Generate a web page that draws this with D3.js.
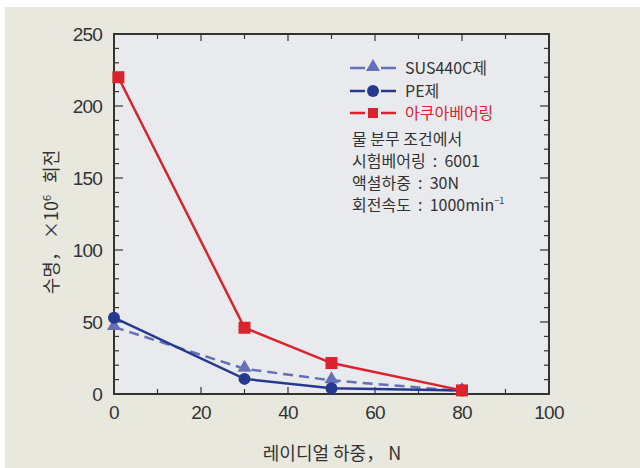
<!DOCTYPE html>
<html>
<head>
<meta charset="utf-8">
<script src="https://cdn.jsdelivr.net/npm/d3@7"></script>
<style>
  html, body { margin: 0; padding: 0; background: #ffffff; }
  svg { display: block; }
  .num { font-family: "Liberation Sans Narrow", "Liberation Sans", Arial, sans-serif; }
  .kr { font-family: "Noto Sans CJK KR", "Noto Sans", sans-serif; white-space: pre; }
</style>
</head>
<body>
<svg id="chart" width="640" height="468"></svg>
<script>
// Radial load (N) vs bearing life (x10^6 revolutions)
const loads = [0, 30, 50, 80];
const susLife = [46.5, 17.5, 9.5, 2];
const peLife = [53, 10.5, 4, 2.5];
const aquaLoads = [1, 30, 50, 80];
const aquaLife = [220, 46, 21.5, 2.5];

const xTicks = [0, 20, 40, 60, 80, 100];
const yTicks = [0, 50, 100, 150, 200, 250];

const seriesNames = ["SUS440C제", "PE제", "아쿠아베어링"];
const conditionLines = ["물 분무 조건에서", "시험베어링  :  6001", "액셜하중  :  30N"];

const svg = d3.select("#chart");
const W = 640, H = 468;

// backgrounds
svg.append("rect").attr("width", W).attr("height", H).attr("fill", "#ffffff");
svg.append("rect").attr("x", 5).attr("y", 7).attr("width", W - 5).attr("height", H - 7).attr("fill", "#e8e8de");

const pLeft = 114, pRight = 549, pTop = 34, pBottom = 394;
const x = d3.scaleLinear().domain([0, 100]).range([pLeft, pRight]);
const y = d3.scaleLinear().domain([0, 250]).range([pBottom, pTop]);

svg.append("rect").attr("x", pLeft).attr("y", pTop).attr("width", pRight - pLeft).attr("height", pBottom - pTop)
  .attr("fill", "#e8eaee");

// minor inward ticks on all four sides
const minorX = d3.range(10, 100, 10);
const minorY = d3.range(10, 250, 10);
const tg = svg.append("g").attr("stroke", "#333").attr("stroke-width", 1.2);
minorX.forEach(v => {
  const len = v % 20 === 0 ? 7 : 5;
  tg.append("line").attr("x1", x(v)).attr("x2", x(v)).attr("y1", pBottom).attr("y2", pBottom - len);
  tg.append("line").attr("x1", x(v)).attr("x2", x(v)).attr("y1", pTop).attr("y2", pTop + len);
});
minorY.forEach(v => {
  const len = v % 50 === 0 ? 9 : 5;
  tg.append("line").attr("y1", y(v)).attr("y2", y(v)).attr("x1", pLeft).attr("x2", pLeft + len);
  tg.append("line").attr("y1", y(v)).attr("y2", y(v)).attr("x1", pRight).attr("x2", pRight - len);
});

// frame
svg.append("rect").attr("x", pLeft).attr("y", pTop).attr("width", pRight - pLeft).attr("height", pBottom - pTop)
  .attr("fill", "none").attr("stroke", "#333").attr("stroke-width", 2);

// tick labels
svg.append("g").selectAll("text").data(xTicks).join("text")
  .attr("class", "num").attr("x", d => x(d)).attr("y", pBottom + 25)
  .attr("text-anchor", "middle").attr("font-size", 19).attr("letter-spacing", -0.8).attr("fill", "#333")
  .text(d => d);
svg.append("g").selectAll("text").data(yTicks).join("text")
  .attr("class", "num").attr("x", pLeft - 12).attr("y", d => y(d) + 7)
  .attr("text-anchor", "end").attr("font-size", 19).attr("letter-spacing", -0.8).attr("fill", "#333")
  .text(d => d);

// axis titles
svg.append("text").attr("class", "kr").attr("x", 332).attr("y", 460)
  .attr("text-anchor", "middle").attr("font-size", 18).attr("fill", "#333")
  .text("레이디얼 하중， N");
const yt = svg.append("text").attr("class", "kr")
  .attr("transform", "translate(58,222) rotate(-90)")
  .attr("text-anchor", "middle").attr("font-size", 18).attr("fill", "#333");
yt.append("tspan").text("수명， ×10");
yt.append("tspan").attr("font-size", 11).attr("dy", -7).text("6");
yt.append("tspan").attr("dy", 7).text("   회전");

// series
const colSus = "#6670b8", colPe = "#253a8e", colAqua = "#d9232e";
const line = d3.line().x(d => x(d[0])).y(d => y(d[1]));
const susPts = loads.map((l, i) => [l, susLife[i]]);
const pePts = loads.map((l, i) => [l, peLife[i]]);
const aquaPts = aquaLoads.map((l, i) => [l, aquaLife[i]]);

svg.append("path").datum(susPts).attr("d", line).attr("fill", "none")
  .attr("stroke", colSus).attr("stroke-width", 2.5).attr("stroke-dasharray", "10,6");
svg.append("path").datum(pePts).attr("d", line).attr("fill", "none")
  .attr("stroke", colPe).attr("stroke-width", 2.5);
svg.append("path").datum(aquaPts).attr("d", line).attr("fill", "none")
  .attr("stroke", colAqua).attr("stroke-width", 2.5);

const tri = d3.symbol().type(d3.symbolTriangle).size(85);
svg.append("g").selectAll("path").data(susPts).join("path")
  .attr("d", tri).attr("transform", d => `translate(${x(d[0])},${y(d[1]) - 1})`).attr("fill", colSus);
svg.append("g").selectAll("circle").data(pePts).join("circle")
  .attr("cx", d => x(d[0])).attr("cy", d => y(d[1])).attr("r", 6).attr("fill", colPe);
svg.append("g").selectAll("rect").data(aquaPts).join("rect")
  .attr("x", d => x(d[0]) - 6).attr("y", d => y(d[1]) - 6).attr("width", 12).attr("height", 12).attr("fill", colAqua);

// legend: short segment, marker, short segment
const legend = svg.append("g");
const legColors = [colSus, colPe, colAqua];
const legY = [68, 91, 113];
seriesNames.forEach((name, i) => {
  const g = legend.append("g").attr("transform", `translate(0,${legY[i]})`);
  [[350, 365], [381, 396]].forEach(([a, b]) => {
    g.append("line").attr("x1", a).attr("x2", b).attr("y1", 0).attr("y2", 0)
      .attr("stroke", legColors[i]).attr("stroke-width", 2.5);
  });
  if (i === 0) g.append("path").attr("d", tri).attr("transform", "translate(373,-1)").attr("fill", colSus);
  if (i === 1) g.append("circle").attr("cx", 373).attr("cy", 0).attr("r", 6).attr("fill", colPe);
  if (i === 2) g.append("rect").attr("x", 368).attr("y", -5).attr("width", 10).attr("height", 10).attr("fill", colAqua);
  g.append("text").attr("class", "kr").attr("x", 405).attr("y", 6)
    .attr("font-size", 16).attr("fill", i === 2 ? colAqua : "#333").text(name);
});

const condY = [139, 161, 183];
conditionLines.forEach((t, i) => {
  legend.append("text").attr("class", "kr").attr("x", 352).attr("y", condY[i] + 6)
    .attr("font-size", 16).attr("fill", "#333").text(t);
});
const last = legend.append("text").attr("class", "kr").attr("x", 352).attr("y", 205 + 6)
  .attr("font-size", 16).attr("fill", "#333");
last.append("tspan").text("회전속도  :  1000min");
last.append("tspan").attr("font-size", 9).attr("dy", -7).text("−1");
</script>
</body>
</html>
